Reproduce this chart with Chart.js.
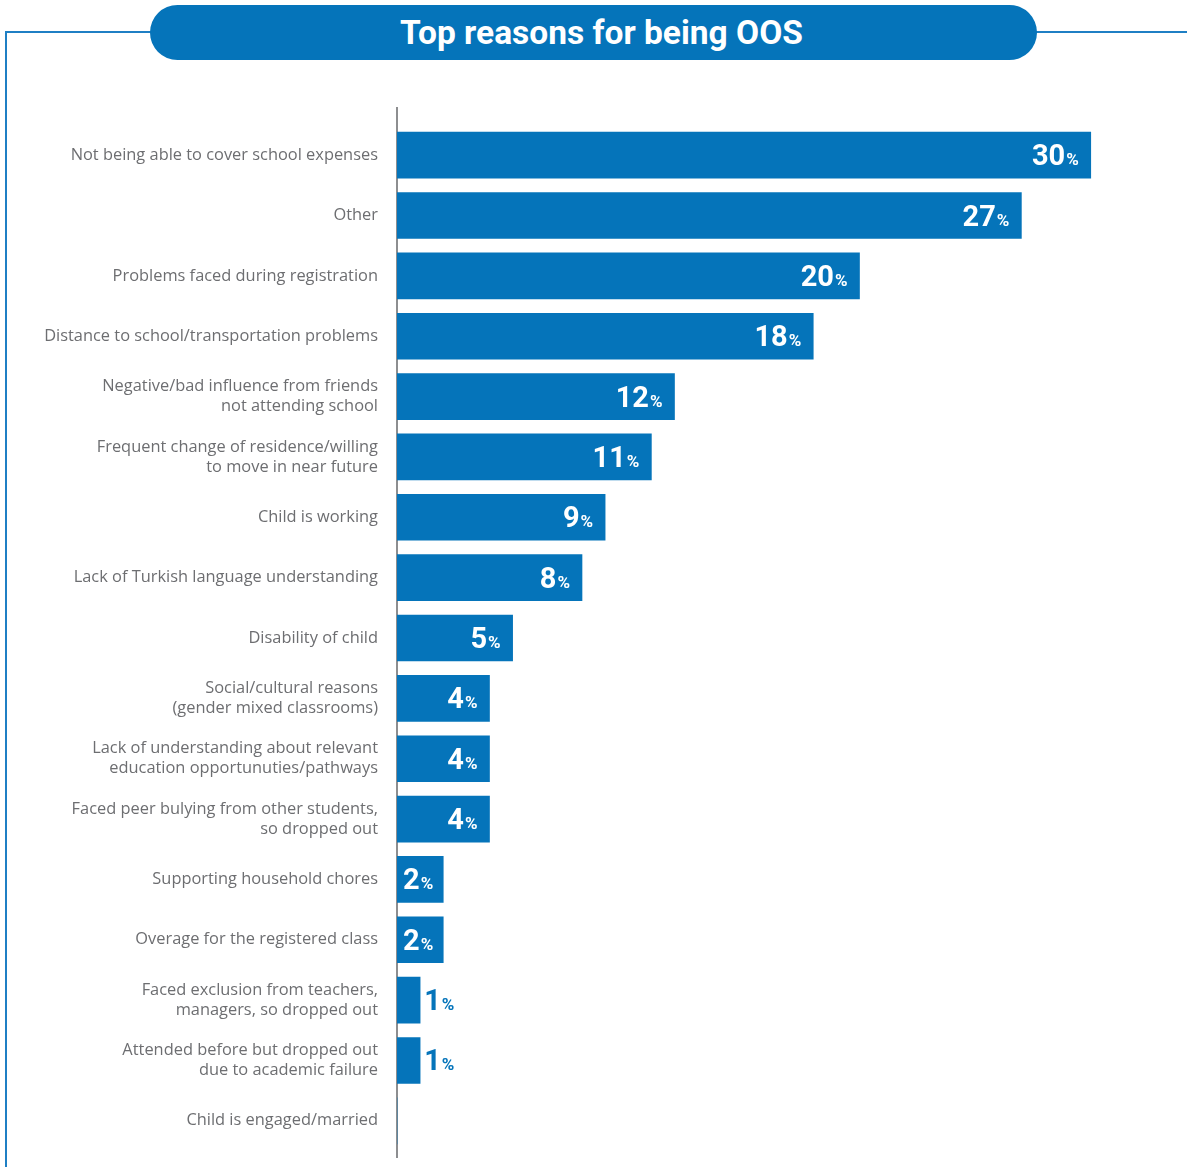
<!DOCTYPE html>
<html>
<head>
<meta charset="utf-8">
<script src="https://cdn.jsdelivr.net/npm/chart.js@4.4.1/dist/chart.umd.min.js"></script>
<style>
  html, body { margin: 0; padding: 0; background: #ffffff; }
  #wrap { position: relative; width: 1187px; height: 1167px; overflow: hidden; }
  #frameTop { position: absolute; left: 5px; top: 31px; width: 1182px; height: 2px; background: #1f7fc4; }
  #frameLeft { position: absolute; left: 5px; top: 31px; width: 2px; height: 1140px; background: #1f7fc4; }
  #pill { position: absolute; left: 150px; top: 5px; width: 887px; height: 55px; border-radius: 28px;
          background: #0574ba; color: #ffffff; font: bold 33.5px Roboto, sans-serif;
          display: flex; align-items: center; justify-content: center; box-sizing: border-box; padding-left: 16px; }
  #chart { position: absolute; left: 0; top: 0; }
</style>
</head>
<body>
<div id="wrap">
  <div id="frameTop"></div>
  <div id="frameLeft"></div>
  <div id="pill">Top reasons for being OOS</div>
  <canvas id="chart" width="1187" height="1167"></canvas>
</div>
<script>
// Reasons given for children being out of school (share of responses, %)
const reasons = [
  ['Not being able to cover school expenses'],
  ['Other'],
  ['Problems faced during registration'],
  ['Distance to school/transportation problems'],
  ['Negative/bad influence from friends', 'not attending school'],
  ['Frequent change of residence/willing', 'to move in near future'],
  ['Child is working'],
  ['Lack of Turkish language understanding'],
  ['Disability of child'],
  ['Social/cultural reasons', '(gender mixed classrooms)'],
  ['Lack of understanding about relevant', 'education opportunuties/pathways'],
  ['Faced peer bulying from other students,', 'so dropped out'],
  ['Supporting household chores'],
  ['Overage for the registered class'],
  ['Faced exclusion from teachers,', 'managers, so dropped out'],
  ['Attended before but dropped out', 'due to academic failure'],
  ['Child is engaged/married']
];
const shares = [30, 27, 20, 18, 12, 11, 9, 8, 5, 4, 4, 4, 2, 2, 1, 1, 0];

const BLUE = '#0574ba';
const GREY = '#6d6e71';
const AXIS_X = 397;

// Value labels: big number + small percent sign, inside the bar end when it fits
const valueLabels = {
  id: 'valueLabels',
  afterDatasetsDraw(chart) {
    const ctx = chart.ctx;
    const meta = chart.getDatasetMeta(0);
    ctx.save();
    ctx.textBaseline = 'alphabetic';
    ctx.textAlign = 'left';
    meta.data.forEach((bar, i) => {
      const v = shares[i];
      if (!v) return;
      const num = String(v);
      ctx.font = 'bold 29px Roboto, sans-serif';
      const wn = ctx.measureText(num).width;
      ctx.font = 'bold 17px Roboto, sans-serif';
      const wp = ctx.measureText('%').width;
      const w = wn + 1 + wp;
      const left = Math.min(bar.base, bar.x), right = Math.max(bar.base, bar.x);
      const inside = right - left >= w + 10;
      const x = inside ? Math.max(left + 6, right - 12 - w) : right + 4;
      const y = bar.y + 10;
      ctx.fillStyle = inside ? '#ffffff' : BLUE;
      ctx.font = 'bold 29px Roboto, sans-serif';
      ctx.fillText(num, x, y);
      ctx.font = 'bold 17px Roboto, sans-serif';
      ctx.fillText('%', x + wn + 1, y);
    });
    ctx.restore();
  }
};

// Vertical baseline of the bars, running a little past the plot area
const baseLine = {
  id: 'baseLine',
  beforeDatasetsDraw(chart) {
    const ctx = chart.ctx;
    const x = chart.scales.x.getPixelForValue(0);
    ctx.save();
    ctx.strokeStyle = '#8d8e90';
    ctx.lineWidth = 2;
    ctx.beginPath();
    ctx.moveTo(x, 107);
    ctx.lineTo(x, 1158);
    ctx.stroke();
    ctx.restore();
  }
};

new Chart(document.getElementById('chart'), {
  type: 'bar',
  data: {
    labels: reasons,
    datasets: [{
      data: shares,
      backgroundColor: BLUE,
      borderWidth: 0,
      barThickness: 46
    }]
  },
  options: {
    indexAxis: 'y',
    responsive: false,
    animation: false,
    layout: { padding: { top: 125, bottom: 16, left: 0, right: 50 } },
    plugins: { legend: { display: false }, tooltip: { enabled: false } },
    scales: {
      x: { display: false, min: 0, max: 32 },
      y: {
        afterFit(scale) {
          scale.width = AXIS_X;
          scale.paddingTop = 0;
          scale.paddingBottom = 0;
        },
        grid: { display: false, drawTicks: false },
        border: { display: false },
        ticks: {
          color: GREY,
          padding: 19,
          font: { family: 'Open Sans, sans-serif', size: 16.4, lineHeight: 1.22 }
        }
      }
    }
  },
  plugins: [baseLine, valueLabels]
});
</script>
</body>
</html>
